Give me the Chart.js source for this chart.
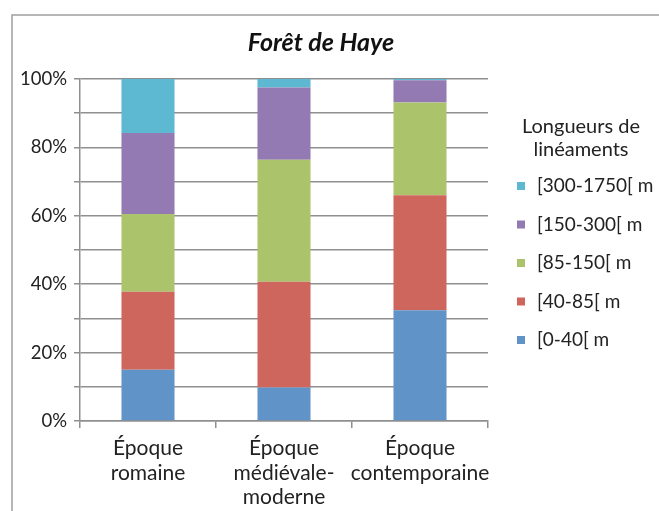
<!DOCTYPE html>
<html>
<head>
<meta charset="utf-8">
<script src="https://cdn.jsdelivr.net/npm/chart.js"></script>
<style>
  html, body { margin: 0; background: #fff; }
  #wrap { width: 659px; height: 511px; }
</style>
</head>
<body>
<div id="wrap"><canvas id="haye"></canvas></div>
<script>
// périodes (axe X) et classes de longueur
const epoques = [['Époque', 'romaine'], ['Époque', 'médiévale-', 'moderne'], ['Époque', 'contemporaine']];
const classes = ['[0-40[ m', '[40-85[ m', '[85-150[ m', '[150-300[ m', '[300-1750[ m'];

// parts en % par période
const l0_40 = [15.0, 9.8, 32.4];
const l40_85 = [22.8, 30.9, 33.6];
const l85_150 = [22.7, 35.7, 27.1];
const l150_300 = [23.7, 21.1, 6.5];
const l300_1750 = [15.8, 2.5, 0.4];

const yTicks = [0, 20, 40, 60, 80, 100];

const couleurs = ['#6094c8', '#cf665e', '#abc46b', '#937ab2', '#5db8d2'];
const police = 'Lato, "Open Sans", sans-serif';
const gris = '#8f8f8f';

const series = [l0_40, l40_85, l85_150, l150_300, l300_1750];

// cadre du graphique + fond blanc + titre
const cadre = {
  id: 'cadre',
  beforeDraw(chart) {
    const ctx = chart.ctx;
    ctx.save();
    ctx.fillStyle = '#fff';
    ctx.fillRect(0, 0, chart.width, chart.height);
    ctx.strokeStyle = '#a0a0a0';
    ctx.lineWidth = 1.5;
    ctx.beginPath();
    ctx.moveTo(12, chart.height);
    ctx.lineTo(12, 15);
    ctx.lineTo(chart.width, 15);
    ctx.stroke();
    ctx.fillStyle = '#111';
    ctx.font = 'italic bold 25px ' + police;
    ctx.textAlign = 'center';
    ctx.textBaseline = 'middle';
    ctx.fillText('Forêt de Haye', 321, 43);
    ctx.restore();
  }
};

// légende à droite, ordre inversé comme dans Excel
const legende = {
  id: 'legende',
  afterDraw(chart) {
    const ctx = chart.ctx;
    ctx.save();
    ctx.fillStyle = '#222';
    ctx.font = '20px ' + police;
    ctx.textAlign = 'center';
    ctx.textBaseline = 'middle';
    ctx.fillText('Longueurs de', 581, 127);
    ctx.fillText('linéaments', 581, 150);
    ctx.textAlign = 'left';
    ctx.font = '19px ' + police;
    const ds = chart.data.datasets.slice().reverse();
    ds.forEach((d, i) => {
      const y = 186 + i * 38.5;
      ctx.fillStyle = d.backgroundColor;
      ctx.fillRect(517, y - 4, 8, 8);
      ctx.fillStyle = '#222';
      ctx.fillText(d.label, 537, y);
    });
    ctx.restore();
  }
};

const chart = new Chart(document.getElementById('haye'), {
  type: 'bar',
  data: {
    labels: epoques,
    datasets: classes.map((c, i) => ({
      label: c,
      data: series[i],
      backgroundColor: couleurs[i],
      borderWidth: 0,
      categoryPercentage: 1,
      barPercentage: 0.39
    }))
  },
  options: {
    responsive: true,
    maintainAspectRatio: false,
    animation: false,
    layout: { padding: { left: 20, right: 171, top: 79, bottom: 0 } },
    plugins: {
      legend: { display: false },
      tooltip: { enabled: false },
      title: { display: false }
    },
    scales: {
      x: {
        stacked: true,
        afterFit(s) { s.height = 90; },
        grid: { offset: true, drawOnChartArea: false, color: gris, lineWidth: 1.5, tickLength: 7 },
        border: { color: gris, width: 1.5 },
        ticks: {
          color: '#222',
          font: { family: police, size: 21, lineHeight: 1.17 },
          padding: 8,
          maxRotation: 0,
          autoSkip: false
        }
      },
      y: {
        stacked: true,
        min: 0,
        max: 100,
        afterFit(s) { s.width = 60; },
        grid: { color: gris, lineWidth: 1.5, tickLength: 6 },
        border: { color: gris, width: 1.5 },
        ticks: {
          stepSize: 10,
          color: '#222',
          font: { family: police, size: 18.5 },
          padding: 7,
          callback: v => yTicks.includes(v) ? v + '%' : ''
        }
      }
    }
  },
  plugins: [cadre, legende]
});
</script>
</body>
</html>
